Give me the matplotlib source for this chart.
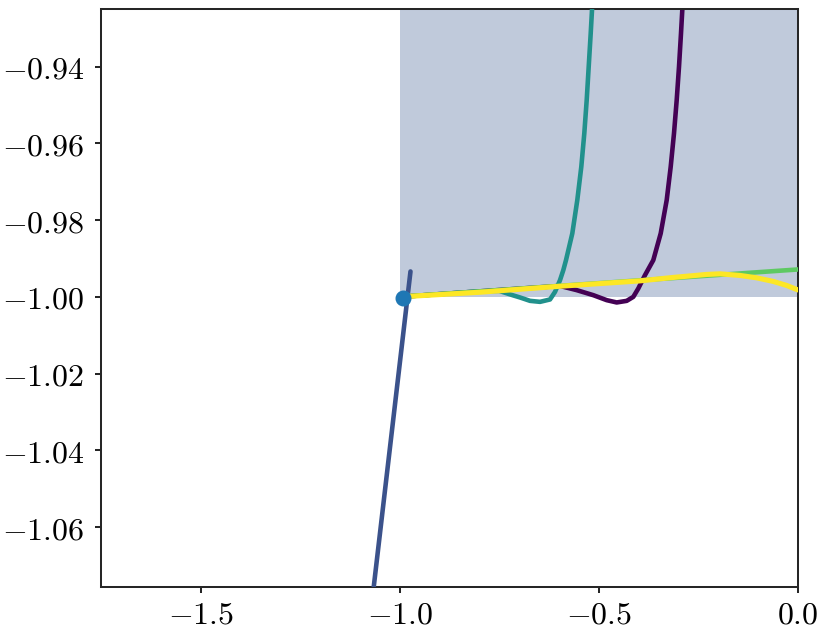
import matplotlib
matplotlib.use("Agg")
import matplotlib.pyplot as plt
from matplotlib.patches import Rectangle

plt.rcParams['mathtext.fontset'] = 'cm'
plt.rcParams['font.family'] = ['DejaVu Serif']

# ---- data ----
purple_x = [-1.0, -0.8, -0.7, -0.64, -0.5976, -0.55567, -0.51399, -0.48035, -0.45524,
            -0.43014, -0.41357, -0.40101, -0.38423, -0.36336, -0.34478, -0.3297,
            -0.31967, -0.31139, -0.30461, -0.29883, -0.29381, -0.29055, -0.28754]
purple_y = [-1.0, -0.99857, -0.99786, -0.99745, -0.99715, -0.99825, -0.99956, -1.00086,
            -1.00146, -1.00104, -1.0, -0.99781, -0.99434, -0.99043, -0.98347, -0.97478,
            -0.9661, -0.95739, -0.94871, -0.94003, -0.93132, -0.92524, -0.91742]

blue_x = [-0.9730, -1.0815]
blue_y = [-0.99338, -1.09]

teal_x = [-1.0, -0.9, -0.8, -0.75, -0.71485, -0.69803, -0.67292, -0.64781, -0.62271,
          -0.61015, -0.5976, -0.58931, -0.58254, -0.56672, -0.55417, -0.54413,
          -0.53659, -0.53057, -0.52555, -0.52052, -0.51726, -0.5135]
teal_y = [-1.0, -0.99929, -0.99857, -0.99845, -0.99963, -1.00016, -1.00104, -1.0013,
          -1.00068, -0.9987, -0.99565, -0.99304, -0.99043, -0.98347, -0.97478, -0.9661,
          -0.95739, -0.94871, -0.94003, -0.93132, -0.92524, -0.91742]

green_x = [-1.0, 0.0]
green_y = [-1.0, -0.99286]

yellow_x = [-1.0, -0.8, -0.6, -0.3968, -0.3131, -0.2293, -0.1959, -0.1457, -0.1038,
            -0.0621, -0.0285, -0.0034, 0.0]
yellow_y = [-1.0, -0.9988, -0.99725, -0.99583, -0.99494, -0.99416, -0.99400, -0.99442,
            -0.99504, -0.99598, -0.99703, -0.99807, -0.9982]

point_x = [-0.991]
point_y = [-1.0004]

region_x0, region_x1 = -1.0, 0.0
region_y0, region_y1 = -1.0, -0.9

xticks = [-1.5, -1.0, -0.5, 0.0]
yticks = [-1.06, -1.04, -1.02, -1.00, -0.98, -0.96, -0.94]

# ---- figure ----
fig = plt.figure(figsize=(8.2, 6.38), dpi=100)
ax = fig.add_axes([0.1232, 0.0799, 0.8500, 0.9060])

ax.add_patch(Rectangle((region_x0, region_y0), region_x1 - region_x0,
                       region_y1 - region_y0, facecolor='#c0cadb',
                       edgecolor='none', zorder=1))

lw = 3.3
kw = dict(solid_capstyle='round', solid_joinstyle='round')
ax.plot(purple_x, purple_y, color='#440154', lw=lw, zorder=2, **kw)
ax.plot(blue_x, blue_y, color='#3b528b', lw=lw, zorder=3, **kw)
ax.plot(teal_x, teal_y, color='#21918c', lw=lw, zorder=4, **kw)
ax.plot(green_x, green_y, color='#5ec962', lw=lw, zorder=5, **kw)
ax.plot(yellow_x, yellow_y, color='#fde725', lw=3.7, zorder=6, **kw)
ax.plot(point_x, point_y, 'o', color='#1f77b4', ms=10.5, zorder=7)

ax.set_xlim(-1.75, 0.0)
ax.set_ylim(-1.0756, -0.925)

ax.set_xticks(xticks)
ax.set_xticklabels([f'${v:.1f}$' for v in xticks])
ax.set_yticks(yticks)
ax.set_yticklabels([f'${v:.2f}$' for v in yticks])

for s in ax.spines.values():
    s.set_linewidth(1.45)
    s.set_color('#262626')
ax.tick_params(axis='both', length=4.1, width=1.45, color='#262626',
               labelsize=23, labelcolor='black')
ax.tick_params(axis='y', pad=8)
ax.tick_params(axis='x', pad=5)

fig.savefig('out.png', dpi=100)
